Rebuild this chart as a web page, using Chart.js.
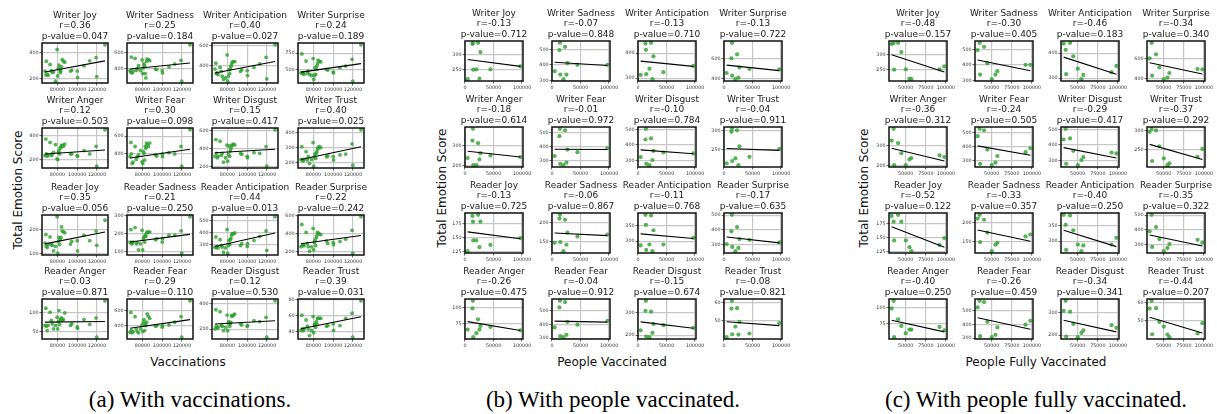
<!DOCTYPE html>
<html>
<head>
<meta charset="utf-8">
<script src="https://cdn.jsdelivr.net/npm/chart.js@4.4.1/dist/chart.umd.min.js"></script>
<style>
  body { margin: 0; background: #fff; width: 1217px; height: 414px; position: relative; overflow: hidden; }
  canvas { position: absolute; }
  .lab { position: absolute; font-family: 'DejaVu Sans'; font-size: 12px; color: #111; white-space: nowrap; transform: translate(-50%, -50%); }
  .ylab { transform: translate(-50%, -50%) rotate(-90deg); }
  .cap { position: absolute; font-family: 'Liberation Serif'; font-size: 23px; color: #000; white-space: nowrap; transform: translate(-50%, -50%); }
</style>
</head>
<body>
<div class="lab ylab" style="left:18px;top:190px">Total Emotion Score</div>
<div class="lab ylab" style="left:442px;top:188px">Total Emotion Score</div>
<div class="lab ylab" style="left:864px;top:188px">Total Emotion Score</div>
<div class="lab" style="left:188px;top:362px">Vaccinations</div>
<div class="lab" style="left:612px;top:362px">People Vaccinated</div>
<div class="lab" style="left:1036px;top:362px">People Fully Vaccinated</div>
<div class="cap" style="left:190px;top:400px">(a) With vaccinations.</div>
<div class="cap" style="left:613px;top:400px">(b) With people vaccinated.</div>
<div class="cap" style="left:1036px;top:400px">(c) With people fully vaccinated.</div>
<script>
// --- names, in grid order (4 per row) ---
const EMOTIONS = ['Writer Joy', 'Writer Sadness', 'Writer Anticipation', 'Writer Surprise',
  'Writer Anger', 'Writer Fear', 'Writer Disgust', 'Writer Trust',
  'Reader Joy', 'Reader Sadness', 'Reader Anticipation', 'Reader Surprise',
  'Reader Anger', 'Reader Fear', 'Reader Disgust', 'Reader Trust'];

// --- (a) vaccinations ---
const X_A = [67500, 68400, 68800, 69700, 70600, 72600, 73900, 74800, 76100, 78100, 79700, 80300, 81000, 81600, 82300,
  82900, 83500, 84200, 84800, 86100, 87400, 93200, 94500, 100000, 100300, 106800, 112600, 119000, 119700, 128000];
const A_WJ = [258, 228, 334, 235, 225, 309, 261, 248, 253, 180, 425, 220, 279, 304, 266, 246, 258, 291, 347, 334, 327, 258, 266, 258, 208, 299, 337, 362, 215, 461];
const A_WS = [379, 358, 550, 350, 371, 533, 383, 404, 442, 379, 513, 342, 413, 463, 442, 342, 287, 496, 525, 517, 504, 400, 392, 379, 350, 425, 463, 508, 246, 704];
const A_WAN = [363, 423, 317, 323, 307, 380, 340, 290, 257, 273, 507, 240, 290, 357, 317, 363, 390, 407, 433, 440, 440, 340, 357, 347, 297, 380, 417, 483, 263, 610];
const A_WSU = [448, 740, 437, 448, 422, 630, 443, 474, 422, 406, 667, 344, 406, 526, 422, 500, 552, 589, 641, 625, 615, 500, 490, 458, 448, 526, 552, 656, 318, 880];
const A_WA = [233, 372, 247, 228, 239, 344, 233, 247, 261, 325, 205, 200, 261, 275, 247, 297, 303, 317, 322, 311, 330, 247, 247, 233, 228, 275, 247, 311, 144, 450];
const A_WF = [365, 529, 396, 286, 302, 482, 333, 365, 384, 435, 306, 286, 423, 404, 325, 482, 463, 521, 502, 482, 521, 384, 372, 396, 365, 412, 396, 482, 255, 674];
const A_WD = [316, 499, 349, 301, 316, 481, 327, 349, 253, 301, 437, 264, 338, 429, 316, 374, 400, 429, 440, 448, 440, 349, 338, 316, 301, 356, 349, 422, 209, 605];
const A_WT = [220, 305, 216, 211, 220, 272, 216, 238, 194, 220, 333, 175, 238, 256, 227, 261, 272, 288, 301, 305, 299, 238, 243, 238, 216, 250, 256, 324, 182, 418];
const A_RJ = [144, 179, 131, 126, 138, 169, 138, 135, 112, 131, 251, 103, 151, 167, 138, 158, 167, 210, 193, 190, 186, 140, 151, 154, 112, 176, 154, 193, 135, 237];
const A_RS = [153, 223, 147, 143, 153, 234, 143, 149, 109, 143, 219, 109, 172, 181, 153, 191, 185, 204, 209, 209, 209, 166, 172, 153, 172, 191, 191, 215, 91, 294];
const A_RAN = [277, 363, 271, 283, 271, 340, 291, 277, 234, 271, 426, 226, 291, 334, 300, 340, 349, 377, 391, 391, 397, 291, 306, 283, 306, 334, 369, 414, 249, 534];
const A_RSU = [259, 504, 270, 281, 270, 418, 295, 259, 209, 256, 461, 223, 306, 331, 270, 357, 382, 418, 407, 400, 393, 324, 295, 306, 281, 317, 342, 440, 187, 589];
const A_RA = [67, 111, 65, 54, 67, 101, 80, 71, 58, 67, 88, 58, 77, 105, 69, 84, 82, 86, 81, 82, 99, 67, 71, 63, 60, 82, 70, 86, 37, 130];
const A_RF = [317, 578, 339, 309, 326, 522, 361, 326, 309, 361, 413, 326, 448, 483, 339, 426, 404, 448, 557, 526, 500, 396, 404, 383, 404, 413, 448, 522, 252, 730];
const A_RD = [203, 355, 224, 208, 216, 339, 229, 224, 189, 216, 313, 189, 250, 261, 224, 242, 255, 308, 303, 313, 321, 242, 234, 224, 229, 268, 261, 295, 137, 426];
const A_RT = [41.8, 60.8, 43.7, 41.6, 43.7, 54.9, 47.2, 43.7, 35.5, 41.8, 59.2, 39, 48.8, 50, 45.9, 52.8, 50, 57, 57, 57, 57, 47.2, 48, 50, 41.8, 48, 57, 63.3, 33.5, 78.8];
const R_A = ['0.36', '0.25', '0.40', '0.24', '0.12', '0.30', '0.15', '0.40', '0.35', '0.21', '0.44', '0.22', '0.03', '0.29', '0.12', '0.39'];
const P_A = ['0.047', '0.184', '0.027', '0.189', '0.503', '0.098', '0.417', '0.025', '0.056', '0.250', '0.013', '0.242', '0.871', '0.110', '0.530', '0.031'];
// fitted line, y at first and last x
const FIT_A = [[251, 337], [400, 475], [323, 440], [458, 589], [247, 280], [349, 451], [356, 393], [220, 305],
  [141, 189], [153, 196], [283, 397], [292, 382], [75.5, 77], [370, 483], [242, 268], [44, 59]];
const XTICKS_A = [80000, 100000, 120000];
const YTICKS_A = [[200, 400], [400, 600], [400, 600], [500, 750], [200, 400], [400, 600], [200, 400, 600], [200, 300, 400],
  [100, 200], [100, 200, 300], [300, 400, 500], [200, 400, 600], [50, 100], [400, 600], [200, 400], [40, 60, 80]];

// --- (b) people vaccinated, (c) people fully vaccinated: same ten days ---
const X_B = [12900, 13800, 22800, 26900, 14300, 19900, 25200, 4500, 44500, 97000];
const X_C = [32500, 35000, 40500, 44500, 35600, 50100, 54600, 57000, 92000, 98000];
const D_WJ = [336, 339, 340, 309, 250, 251, 220, 218, 251, 261];
const D_WS = [496, 543, 517, 411, 337, 307, 337, 359, 400, 400];
const D_WAN = [438, 413, 441, 387, 316, 338, 296, 313, 324, 349];
const D_WSU = [603, 755, 642, 513, 432, 397, 413, 458, 497, 494];
const D_WA = [325, 384, 312, 262, 202, 202, 231, 238, 251, 243];
const D_WF = [474, 526, 516, 379, 277, 268, 286, 333, 360, 388];
const D_WD = [436, 506, 443, 362, 277, 268, 302, 321, 351, 345];
const D_WT = [297, 305, 301, 259, 220, 227, 209, 214, 231, 252];
const D_RJ = [188, 178, 190, 178, 145, 145, 133, 126, 137, 149];
const D_RS = [210, 220, 207, 173, 148, 124, 141, 146, 163, 168];
const D_RAN = [387, 354, 385, 336, 271, 289, 267, 286, 289, 311];
const D_RSU = [389, 502, 418, 336, 282, 253, 275, 302, 331, 313];
const D_RA = [98.5, 110, 82, 72, 55, 61, 66.5, 66.5, 70.5, 65.5];
const D_RF = [524, 572, 563, 419, 314, 307, 324, 378, 398, 426];
const D_RD = [310, 355, 306, 251, 194, 191, 210, 222, 245, 233];
const D_RT = [56.8, 61, 57, 49.5, 42.8, 47, 42.6, 41.2, 43.2, 48.8];
const R_B = ['-0.13', '-0.07', '-0.13', '-0.13', '-0.18', '-0.01', '-0.10', '-0.04', '-0.13', '-0.06', '-0.11', '-0.17', '-0.26', '-0.04', '-0.15', '-0.08'];
const P_B = ['0.712', '0.848', '0.710', '0.722', '0.614', '0.972', '0.784', '0.911', '0.725', '0.867', '0.768', '0.635', '0.475', '0.912', '0.674', '0.821'];
const R_C = ['-0.48', '-0.30', '-0.46', '-0.34', '-0.36', '-0.24', '-0.29', '-0.37', '-0.52', '-0.33', '-0.40', '-0.35', '-0.40', '-0.26', '-0.34', '-0.44'];
const P_C = ['0.157', '0.405', '0.183', '0.340', '0.312', '0.505', '0.417', '0.292', '0.122', '0.357', '0.250', '0.322', '0.250', '0.459', '0.341', '0.207'];
const FIT_B = [[284, 261], [417, 396], [368, 347], [535, 481], [272, 243], [381, 379], [368, 343], [253, 248],
  [160, 148], [172, 165], [324, 309], [350, 310], [78.5, 65], [424, 417], [260, 231], [49.6, 47.5]];
const FIT_C = [[300, 242], [432, 362], [384, 316], [558, 448], [287, 223], [405, 338], [383, 315], [264, 224],
  [169, 133], [180, 150], [336, 282], [364, 288], [80.5, 63], [449, 365], [267, 215], [52, 43.5]];
const XTICKS_B = [0, 50000, 100000];
const XTICKS_C = [50000, 75000, 100000];
const YTICKS_BC = [[250, 300], [300, 400, 500], [300, 400], [400, 600], [200, 300], [300, 400, 500], [300, 400, 500], [250, 300],
  [125, 150, 175], [150, 200], [300, 350], [300, 400, 500], [75, 100], [300, 400, 500], [200, 300], [50, 60]];

const Y_A = [A_WJ, A_WS, A_WAN, A_WSU, A_WA, A_WF, A_WD, A_WT, A_RJ, A_RS, A_RAN, A_RSU, A_RA, A_RF, A_RD, A_RT];
const Y_D = [D_WJ, D_WS, D_WAN, D_WSU, D_WA, D_WF, D_WD, D_WT, D_RJ, D_RS, D_RAN, D_RSU, D_RA, D_RF, D_RD, D_RT];

const TITLE_H = 33, SIDE = 16, BOTTOM = 10, LINE_H = 10.5;
const TITLE_FONT = '9px "DejaVu Sans"';
const GREEN = 'rgba(44,160,44,0.8)';

const panels = [
  { x: X_A, ys: Y_A, r: R_A, p: P_A, fit: FIT_A, xt: XTICKS_A, yt: YTICKS_A, cols: [42, 127, 212, 298], rows: [43, 128, 215, 299], w: 66, rad: 1.9 },
  { x: X_B, ys: Y_D, r: R_B, p: P_B, fit: FIT_B, xt: XTICKS_B, yt: YTICKS_BC, cols: [465, 552, 638, 724], rows: [41, 127, 213, 299], w: 58, rad: 2.1 },
  { x: X_C, ys: Y_D, r: R_C, p: P_C, fit: FIT_C, xt: XTICKS_C, yt: YTICKS_BC, cols: [889, 975, 1061, 1147], rows: [41, 127, 213, 299], w: 58, rad: 2.1 }
];

// three-line heading centred over the plot box, plus the black frame
const decor = {
  id: 'decor',
  afterDatasetsDraw(c, args, o) {
    const a = c.chartArea, g = c.ctx;
    g.save();
    g.strokeStyle = '#111';
    g.lineWidth = 1.5;
    g.strokeRect(a.left, a.top, a.right - a.left, a.bottom - a.top);
    g.font = TITLE_FONT;
    g.fillStyle = '#1a1a1a';
    g.textAlign = 'center';
    g.textBaseline = 'middle';
    const cx = (a.left + a.right) / 2;
    o.lines.forEach((t, k) => g.fillText(t, cx, a.top - 1.5 - (o.lines.length - k - 0.5) * LINE_H));
    g.restore();
  }
};

function padRange(lo, hi) {
  const m = (hi - lo) * 0.05;
  return [lo - m, hi + m];
}

function axis(min, max, vals, isX) {
  return {
    type: 'linear', min, max,
    afterBuildTicks: s => { s.ticks = vals.map(v => ({ value: v })); },
    afterFit: s => { if (isX) s.height = BOTTOM; else s.width = SIDE; },
    ticks: { callback: v => String(v), font: { family: 'DejaVu Sans', size: 4.8 }, color: '#333', padding: 1, maxRotation: 0, autoSkip: false },
    grid: { color: '#c6c6c6', lineWidth: 1.2, tickLength: 2.5, tickColor: '#333', tickWidth: 0.8 },
    border: { display: false }
  };
}

function makeChart(pn, i) {
  const xs = pn.x, ys = pn.ys[i], fit = pn.fit[i];
  const x0 = Math.min(...xs), x1 = Math.max(...xs);
  const [xmin, xmax] = padRange(x0, x1);
  const all = ys.concat(fit);
  const [ymin, ymax] = padRange(Math.min(...all), Math.max(...all));

  const W = pn.w + 2 * SIDE, H = TITLE_H + 40 + BOTTOM;
  const cv = document.createElement('canvas');
  cv.width = W; cv.height = H;
  cv.style.width = W + 'px'; cv.style.height = H + 'px';
  cv.style.left = (pn.cols[i % 4] - SIDE) + 'px';
  cv.style.top = (pn.rows[Math.floor(i / 4)] - TITLE_H) + 'px';
  document.body.appendChild(cv);

  new Chart(cv, {
    type: 'scatter',
    data: {
      datasets: [
        { type: 'line', data: [{ x: x0, y: fit[0] }, { x: x1, y: fit[1] }], borderColor: '#000', borderWidth: 1.1, pointRadius: 0, order: 0 },
        { data: xs.map((x, k) => ({ x, y: ys[k] })), backgroundColor: GREEN, borderWidth: 0, pointRadius: pn.rad, order: 1 }
      ]
    },
    options: {
      responsive: false, animation: false, events: [],
      layout: { padding: { top: TITLE_H, right: SIDE, left: 0, bottom: 0 } },
      plugins: {
        legend: { display: false }, tooltip: { enabled: false },
        decor: { lines: [EMOTIONS[i], 'r=' + pn.r[i], 'p-value=' + pn.p[i]] }
      },
      scales: { x: axis(xmin, xmax, pn.xt, true), y: axis(ymin, ymax, pn.yt[i], false) }
    },
    plugins: [decor]
  });
}

panels.forEach(pn => EMOTIONS.forEach((e, i) => makeChart(pn, i)));
</script>
</body>
</html>
